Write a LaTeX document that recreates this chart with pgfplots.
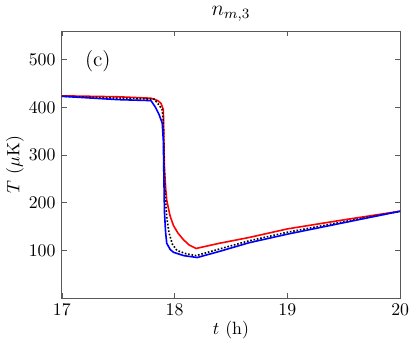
\documentclass[border=0pt]{standalone}
\usepackage{pgfplots}
\pgfplotsset{compat=1.18}
\begin{document}
\begin{tikzpicture}
\begin{axis}[
    scale only axis,
    width=190pt, height=150pt,
    xmin=17, xmax=20, ymin=0, ymax=560,
    xtick={17,18,19,20}, ytick={100,200,300,400,500},
    tick align=inside, tick pos=both,
    major tick length=3pt,
    axis line style={gray!70!black, line width=0.5pt},
    tick style={gray!70!black},
    title={$n_{m,3}$},
    title style={yshift=-4pt, font=\large},
    xlabel={$t$ (h)},
    ylabel={$T$ ($\mu$K)},
    xlabel style={yshift=4pt},
    ylabel style={yshift=-4pt},
    clip=true,
]
\addplot[red, line width=0.9pt] coordinates {
(17,424) (17.5,422) (17.79,419) (17.85,414) (17.88,408) (17.9,395) (17.905,330)
(17.91,270) (17.92,232) (17.93,205) (17.96,172) (17.99,152) (18.03,136)
(18.08,122) (18.13,111) (18.19,104) (18.4,115) (18.66,127) (19,145)
(19.5,164) (20,182)
};
\addplot[black, densely dotted, line width=0.9pt] coordinates {
(17,423) (17.5,419) (17.82,417) (17.86,405) (17.89,395) (17.9,370) (17.905,300)
(17.915,220) (17.93,170) (17.95,137) (17.98,113) (18.02,100) (18.1,93)
(18.19,89) (18.4,103) (18.66,120) (19,138) (19.5,160) (20,182)
};
\addplot[blue, line width=0.9pt] coordinates {
(17,423) (17.5,416) (17.79,414) (17.83,400) (17.86,386) (17.89,367) (17.9,330)
(17.905,250) (17.91,180) (17.92,138) (17.93,115) (17.96,102) (17.99,96)
(18.08,89) (18.2,85) (18.4,98) (18.66,116) (19,134) (19.5,158) (20,182)
};
\node[anchor=north west] at (rel axis cs:0.05,0.95) {\large (c)};
\end{axis}
\end{tikzpicture}
\end{document}
